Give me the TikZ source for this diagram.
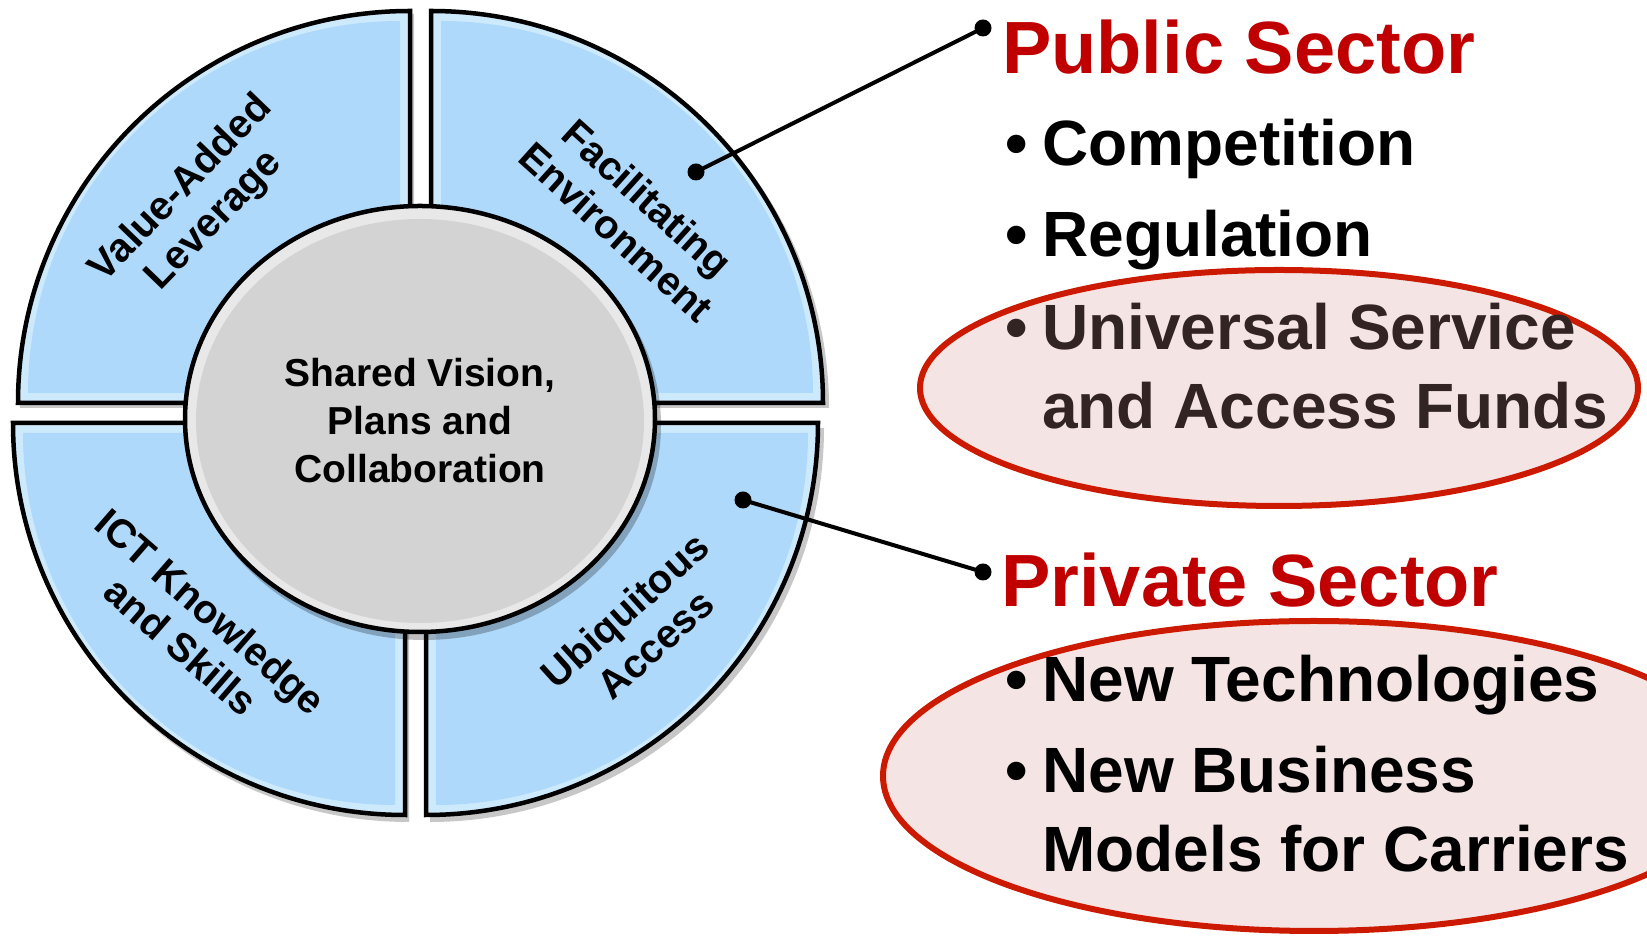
\documentclass[tikz,border=0pt]{standalone}
\usepackage{fontspec}
\setmainfont{Liberation Sans}
\definecolor{ringblue}{RGB}{174,217,251}
\definecolor{ringlight}{RGB}{205,234,253}
\definecolor{hubgray}{RGB}{211,211,211}
\definecolor{hubrim}{RGB}{232,232,232}
\definecolor{headred}{RGB}{192,0,0}
\definecolor{ovalred}{RGB}{204,26,0}
\definecolor{ovalfill}{RGB}{245,228,228}
\definecolor{fundtext}{RGB}{51,36,36}
\tikzset{
  ringtext/.style={font=\fontsize{40}{46}\selectfont\bfseries, align=center, inner sep=0},
  hubtext/.style={font=\fontsize{39}{48}\selectfont\bfseries, align=center, inner sep=0},
  headtext/.style={font=\fontsize{74}{80}\selectfont\bfseries, text=headred, anchor=base west, inner sep=0},
  itemtext/.style={font=\fontsize{64}{79}\selectfont\bfseries, anchor=base west, inner sep=0},
  bullettext/.style={font=\fontsize{64}{79}\selectfont\bfseries, anchor=base, inner sep=0},
  oval/.style={draw=ovalred, line width=6, fill=ovalfill},
  leader/.style={line width=4, draw=black},
  quadline/.style={draw=black, line width=4.5},
}
\begin{document}
\begin{tikzpicture}[x=1pt,y=1pt]
\useasboundingbox (0,0) rectangle (1647,936);
\fill[white] (0,0) rectangle (1647,936);

% ring quadrants: shadows
\foreach \cx/\cy/\rot in {410/533/0, 431/533/-90, 426/513/180, 405/513/90}{
  \begin{scope}[shift={(\cx+4,\cy-5)}, rotate=\rot]
    \fill[black, opacity=.22] (0,0) -- (-394,0) arc[start angle=180, end angle=90, radius=394] -- cycle;
  \end{scope}
}
% ring quadrants
\foreach \cx/\cy/\rot in {410/533/0, 431/533/-90, 426/513/180, 405/513/90}{
  \begin{scope}[shift={(\cx,\cy)}, rotate=\rot]
    \fill[ringlight] (0,0) -- (-392,0) arc[start angle=180, end angle=90, radius=392] -- cycle;
    \fill[ringblue] (-10,10) -- (-382,10) arc[start angle=180, end angle=90, radius=372] -- cycle;
    \draw[quadline] (0,0) -- (-392,0) arc[start angle=180, end angle=90, radius=392] -- cycle;
  \end{scope}
}

% hub
\fill[black, opacity=.25] (424,511) ellipse[x radius=237, y radius=215];
\filldraw[fill=hubrim, quadline] (420,517) ellipse[x radius=235, y radius=213];
\fill[hubgray] (420,515) ellipse[x radius=224, y radius=202];
\node[hubtext] (hub) at (420,515) {Shared Vision,\\Plans and\\Collaboration};

% ring labels
\node[ringtext, rotate=46] (lblVA) at (198,731) {Value-Added\\Leverage};
\node[ringtext, rotate=-42] (lblFE) at (632,721) {Facilitating\\Environment};
\node[ringtext, rotate=-41] (lblICT) at (196,307) {ICT Knowledge\\and Skills};
\node[ringtext, rotate=42] (lblUA) at (640,309) {Ubiquitous\\Access};

% ovals
\draw[oval] (1279,548) ellipse[x radius=359, y radius=118];
\draw[oval] (1314,160) ellipse[x radius=431, y radius=155];

% public sector
\node[headtext] (pub) at (1002,862) {Public Sector};
\node[bullettext] (b1) at (1017,770) {•};
\node[itemtext] (i1) at (1042,770) {Competition};
\node[bullettext] (b2) at (1017,679) {•};
\node[itemtext] (i2) at (1042,679) {Regulation};
\node[bullettext, text=fundtext] (b3) at (1017,586) {•};
\node[itemtext, text=fundtext] (i3a) at (1042,586) {Universal Service};
\node[itemtext, text=fundtext] (i3b) at (1042,507) {and Access Funds};

% private sector
\node[headtext] (priv) at (1001,329) {Private Sector};
\node[bullettext] (b4) at (1017,234) {•};
\node[itemtext] (i4) at (1042,234) {New Technologies};
\node[bullettext] (b5) at (1017,143) {•};
\node[itemtext] (i5a) at (1042,143) {New Business};
\node[itemtext] (i5b) at (1042,64) {Models for Carriers};

% leaders
\coordinate (pa) at (696,764);
\coordinate (pb) at (983,908);
\coordinate (qa) at (743,436);
\coordinate (qb) at (983,364);
\draw[leader] (pa) -- (pb);
\draw[leader] (qa) -- (qb);
\foreach \p in {pa,pb,qa,qb}{ \fill[black] (\p) circle[radius=8.5]; }
\end{tikzpicture}
\end{document}
